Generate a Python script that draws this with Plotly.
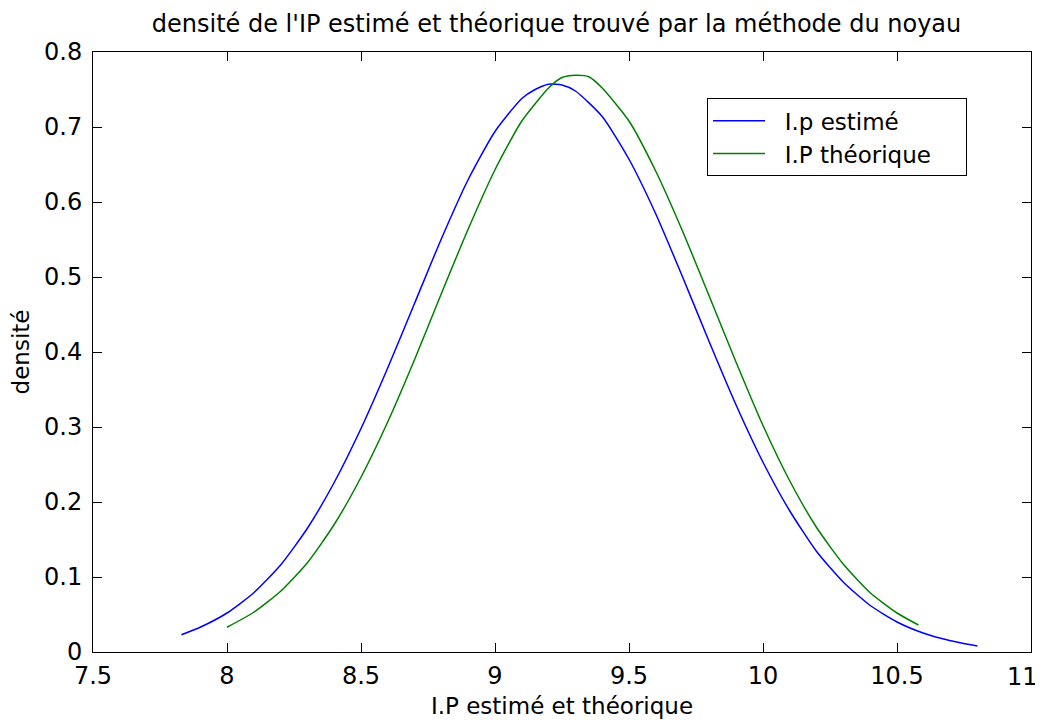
import plotly.graph_objects as go

# Estimated density (blue)
x_est = [7.83, 7.9, 8.0, 8.1, 8.2, 8.3, 8.4, 8.5, 8.6, 8.7, 8.8, 8.9, 9.0, 9.1, 9.15, 9.2, 9.25,
         9.3, 9.4, 9.5, 9.6, 9.7, 9.8, 9.9, 10.0, 10.1, 10.2, 10.3, 10.4, 10.5, 10.6, 10.7, 10.8]
y_est = [0.023, 0.033, 0.052, 0.079, 0.116, 0.165, 0.226, 0.298, 0.379, 0.465, 0.551, 0.630,
         0.694, 0.738, 0.750, 0.757, 0.756, 0.748, 0.714, 0.657, 0.584, 0.500, 0.413, 0.329, 0.253, 0.188,
         0.134, 0.093, 0.062, 0.040, 0.025, 0.015, 0.008]

# Theoretical density (green)
x_th = [8.0, 8.1, 8.2, 8.3, 8.4, 8.5, 8.6, 8.7, 8.8, 8.9, 9.0, 9.1, 9.2, 9.25, 9.3, 9.35,
        9.4, 9.5, 9.6, 9.7, 9.8, 9.9, 10.0, 10.1, 10.2, 10.3, 10.4, 10.5, 10.58]
y_th = [0.033, 0.053, 0.081, 0.119, 0.170, 0.233, 0.307, 0.390, 0.478, 0.564, 0.643, 0.708,
        0.752, 0.766, 0.769, 0.767, 0.752, 0.708, 0.641, 0.561, 0.474, 0.386, 0.302, 0.228,
        0.166, 0.117, 0.079, 0.052, 0.036]

x_ticks = [7.5, 8, 8.5, 9, 9.5, 10, 10.5, 11]
y_ticks = [0, 0.1, 0.2, 0.3, 0.4, 0.5, 0.6, 0.7, 0.8]

FONT = "DejaVu Sans, Verdana, sans-serif"
FS = 24
NB = "\u00a0"

fig = go.Figure()
fig.add_trace(go.Scatter(x=x_est, y=y_est, mode="lines", name=NB * 2 + "I.p estimé",
                         line=dict(color="#0000ff", width=1.5, shape="spline", smoothing=0.6)))
fig.add_trace(go.Scatter(x=x_th, y=y_th, mode="lines", name=NB * 2 + "I.P théorique" + NB * 4,
                         line=dict(color="#008000", width=1.5, shape="spline", smoothing=0.6)))

axis_common = dict(
    showline=True, linecolor="black", linewidth=1, mirror="ticks",
    ticks="inside", ticklen=9, tickcolor="black", tickwidth=1,
    showgrid=False, zeroline=False, automargin=False,
    tickfont=dict(family=FONT, size=24, color="black"),
)

# last x tick label sits at the page edge: drawn right-aligned to its tick so it stays visible
x_ticktext = [str(v) for v in x_ticks[:-1]] + [""]

# The page body has an 8px default margin, so the figure is sized/offset to compensate.
fig.update_layout(
    width=1035, height=712,
    margin=dict(l=85, r=12, t=44, b=68),
    paper_bgcolor="white", plot_bgcolor="white",
    title=dict(text="densité de l'IP estimé et théorique trouvé par la méthode du noyau",
               x=0.530, xanchor="center", y=0.978, yanchor="middle",
               font=dict(family=FONT, size=FS, color="black")),
    xaxis=dict(range=[7.5, 11], tickvals=x_ticks, ticktext=x_ticktext,
               ticklabelstandoff=2,
               title=dict(text="I.P estimé et théorique", standoff=9,
                          font=dict(family=FONT, size=23, color="black")),
               **axis_common),
    yaxis=dict(range=[0, 0.8], tickvals=y_ticks, ticktext=[("0" if v == 0 else str(v)) for v in y_ticks],
               ticklabelstandoff=5,
               title=dict(text="densité", standoff=12,
                          font=dict(family=FONT, size=23, color="black")),
               **axis_common),
    legend=dict(x=0.6546, y=0.923, xanchor="left", yanchor="top",
                bordercolor="black", borderwidth=1, bgcolor="white",
                font=dict(family=FONT, size=23, color="black"),
                itemwidth=52, tracegroupgap=0),
    showlegend=True,
    annotations=[dict(x=x_ticks[-1], xref="x", y=0, yref="paper",
                      text=str(x_ticks[-1]), showarrow=False,
                      xanchor="right", yanchor="top", xshift=9, yshift=-9,
                      font=dict(family=FONT, size=24, color="black"))],
)

fig.write_html("out.html")
